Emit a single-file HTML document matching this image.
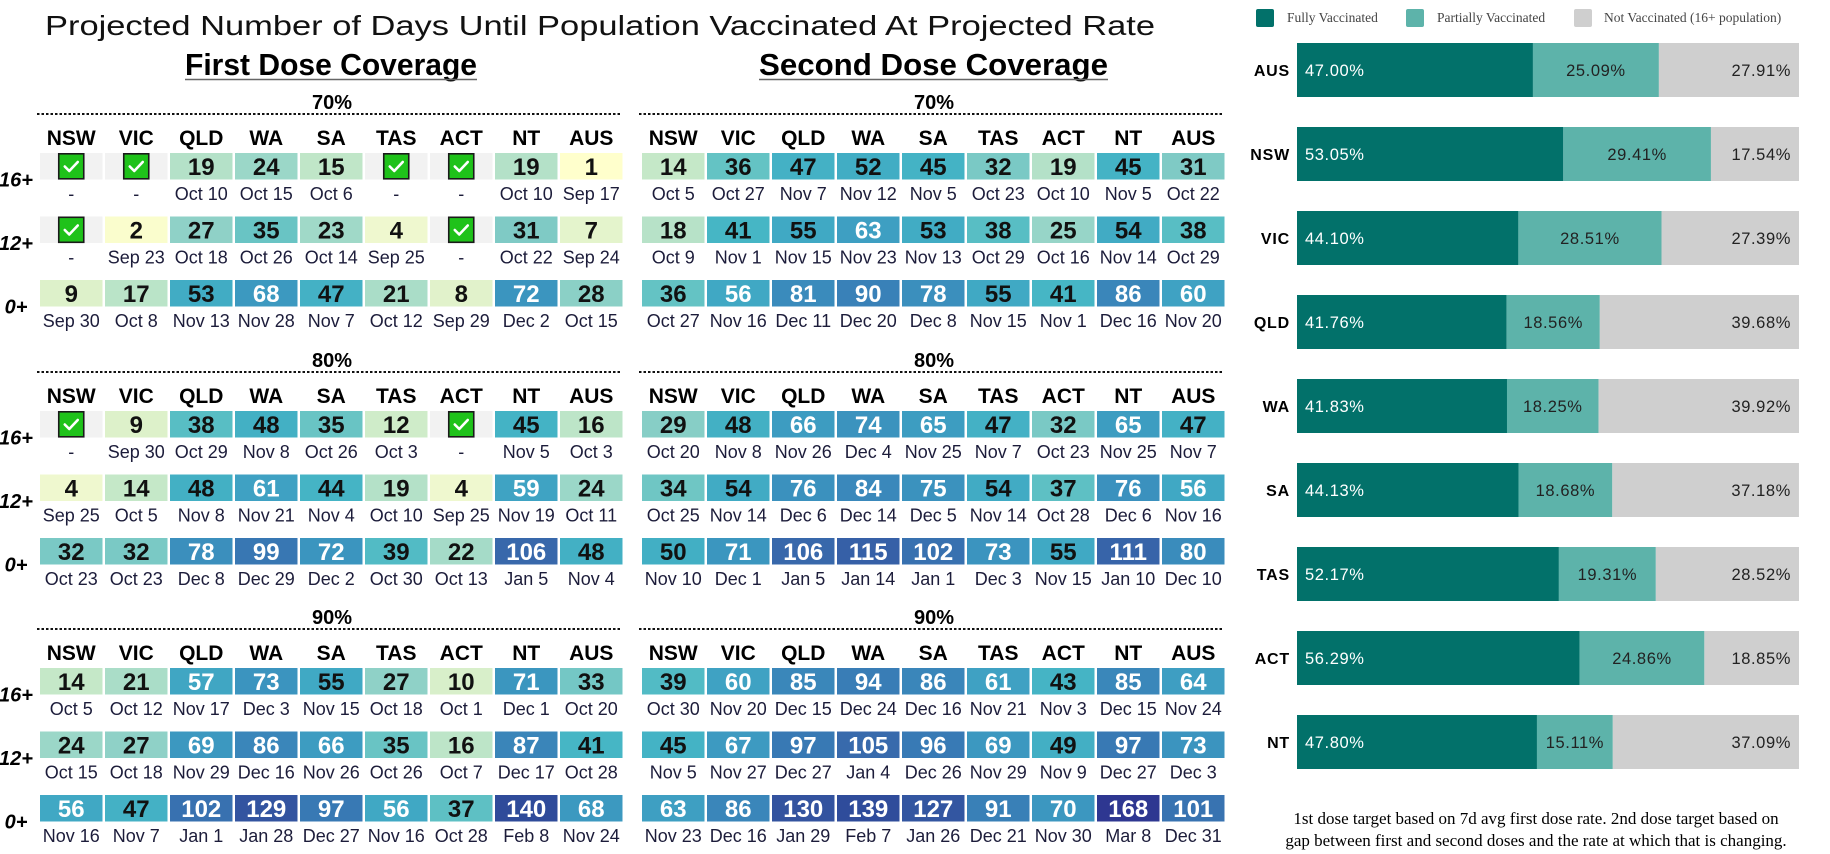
<!DOCTYPE html>
<html><head><meta charset="utf-8"><style>
html,body{margin:0;padding:0;background:#fff;}
svg{display:block;}
</style></head><body>
<svg id="chart" width="1830" height="854" viewBox="0 0 1830 854" xmlns="http://www.w3.org/2000/svg" font-family="Liberation Sans, sans-serif">
<text x="45" y="35" font-size="28" textLength="1110" lengthAdjust="spacingAndGlyphs" fill="#111">Projected Number of Days Until Population Vaccinated At Projected Rate</text>
<text x="185" y="75" font-size="31" font-weight="bold" textLength="292" lengthAdjust="spacingAndGlyphs">First Dose Coverage</text>
<line x1="185" y1="79.5" x2="477" y2="79.5" stroke="#666" stroke-width="1.5"/>
<text x="759" y="75" font-size="31" font-weight="bold" textLength="349" lengthAdjust="spacingAndGlyphs">Second Dose Coverage</text>
<line x1="759" y1="79.5" x2="1108" y2="79.5" stroke="#666" stroke-width="1.5"/>
<g id="tables"></g>
<g id="bars"></g>
<text x="1536" y="824" font-size="17" font-family="Liberation Serif, serif" text-anchor="middle">1st dose target based on 7d avg first dose rate. 2nd dose target based on</text>
<text x="1536" y="846" font-size="17" font-family="Liberation Serif, serif" text-anchor="middle">gap between first and second doses and the rate at which that is changing.</text>
</svg>
<script>
const states = ["NSW","VIC","QLD","WA","SA","TAS","ACT","NT","AUS"];
const ageGroups = ["16+","12+","0+"];
const targets = ["70%","80%","90%"];
// 0 = already reached (checkbox)
const firstDays = [
 [[0,0,19,24,15,0,0,19,1],[0,2,27,35,23,4,0,31,7],[9,17,53,68,47,21,8,72,28]],
 [[0,9,38,48,35,12,0,45,16],[4,14,48,61,44,19,4,59,24],[32,32,78,99,72,39,22,106,48]],
 [[14,21,57,73,55,27,10,71,33],[24,27,69,86,66,35,16,87,41],[56,47,102,129,97,56,37,140,68]]
];
const firstDates = [
 [["-","-","Oct 10","Oct 15","Oct 6","-","-","Oct 10","Sep 17"],["-","Sep 23","Oct 18","Oct 26","Oct 14","Sep 25","-","Oct 22","Sep 24"],["Sep 30","Oct 8","Nov 13","Nov 28","Nov 7","Oct 12","Sep 29","Dec 2","Oct 15"]],
 [["-","Sep 30","Oct 29","Nov 8","Oct 26","Oct 3","-","Nov 5","Oct 3"],["Sep 25","Oct 5","Nov 8","Nov 21","Nov 4","Oct 10","Sep 25","Nov 19","Oct 11"],["Oct 23","Oct 23","Dec 8","Dec 29","Dec 2","Oct 30","Oct 13","Jan 5","Nov 4"]],
 [["Oct 5","Oct 12","Nov 17","Dec 3","Nov 15","Oct 18","Oct 1","Dec 1","Oct 20"],["Oct 15","Oct 18","Nov 29","Dec 16","Nov 26","Oct 26","Oct 7","Dec 17","Oct 28"],["Nov 16","Nov 7","Jan 1","Jan 28","Dec 27","Nov 16","Oct 28","Feb 8","Nov 24"]]
];
const secondDays = [
 [[14,36,47,52,45,32,19,45,31],[18,41,55,63,53,38,25,54,38],[36,56,81,90,78,55,41,86,60]],
 [[29,48,66,74,65,47,32,65,47],[34,54,76,84,75,54,37,76,56],[50,71,106,115,102,73,55,111,80]],
 [[39,60,85,94,86,61,43,85,64],[45,67,97,105,96,69,49,97,73],[63,86,130,139,127,91,70,168,101]]
];
const secondDates = [
 [["Oct 5","Oct 27","Nov 7","Nov 12","Nov 5","Oct 23","Oct 10","Nov 5","Oct 22"],["Oct 9","Nov 1","Nov 15","Nov 23","Nov 13","Oct 29","Oct 16","Nov 14","Oct 29"],["Oct 27","Nov 16","Dec 11","Dec 20","Dec 8","Nov 15","Nov 1","Dec 16","Nov 20"]],
 [["Oct 20","Nov 8","Nov 26","Dec 4","Nov 25","Nov 7","Oct 23","Nov 25","Nov 7"],["Oct 25","Nov 14","Dec 6","Dec 14","Dec 5","Nov 14","Oct 28","Dec 6","Nov 16"],["Nov 10","Dec 1","Jan 5","Jan 14","Jan 1","Dec 3","Nov 15","Jan 10","Dec 10"]],
 [["Oct 30","Nov 20","Dec 15","Dec 24","Dec 16","Nov 21","Nov 3","Dec 15","Nov 24"],["Nov 5","Nov 27","Dec 27","Jan 4","Dec 26","Nov 29","Nov 9","Dec 27","Dec 3"],["Nov 23","Dec 16","Jan 29","Feb 7","Jan 26","Dec 21","Nov 30","Mar 8","Dec 31"]]
];
const barStates = ["AUS","NSW","VIC","QLD","WA","SA","TAS","ACT","NT"];
const fullyPct = [47.00,53.05,44.10,41.76,41.83,44.13,52.17,56.29,47.80];
const partialPct = [25.09,29.41,28.51,18.56,18.25,18.68,19.31,24.86,15.11];
const notPct = [27.91,17.54,27.39,39.68,39.92,37.18,28.52,18.85,37.09];

const NS="http://www.w3.org/2000/svg";
function mk(tag, attrs, parent, txt){const e=document.createElementNS(NS,tag);for(const k in attrs)e.setAttribute(k,attrs[k]);if(txt!==undefined)e.textContent=txt;parent.appendChild(e);return e;}
const stops=[[1,[255,255,204]],[4,[239,248,207]],[9,[221,241,202]],[15,[192,230,200]],[19,[180,225,200]],[24,[155,215,200]],[31,[127,202,197]],[36,[100,195,196]],[41,[70,182,197]],[53,[65,172,196]],[60,[63,162,195]],[72,[59,149,191]],[86,[58,134,186]],[99,[56,119,179]],[106,[56,104,171]],[129,[51,84,160]],[140,[47,75,154]],[168,[46,55,145]]];
function color(v){if(v<=stops[0][0])return "rgb(255,255,204)";for(let i=1;i<stops.length;i++){if(v<=stops[i][0]){const a=stops[i-1],b=stops[i];const t=(v-a[0])/(b[0]-a[0]);const c=a[1].map((x,j)=>Math.round(x+(b[1][j]-x)*t));return `rgb(${c})`;}}return "rgb(46,55,145)";}

const tables=document.getElementById('tables');
const colX=i=>i*65, cellW=62.5, cellH=26.5;
const blockTop=[153,411,668], rowOff=r=>r*63.5;
function drawTable(x0, days, dates, name){
  const g=mk('g',{},tables);
  
  
  targets.forEach((tg,b)=>{
    const top=blockTop[b];
    const lab=mk('text',{x:x0+292,y:top-44,'font-size':20,'font-weight':'bold','text-anchor':'middle'},g,tg);
    
    
    const ln=mk('line',{x1:x0-3,y1:top-39,x2:x0+582,y2:top-39,stroke:'#111','stroke-width':2,'stroke-dasharray':'2.5,2'},g);
    
    
    states.forEach((s,i)=>{
      const h=mk('text',{x:x0+colX(i)+cellW/2,y:top-8,'font-size':21,'font-weight':'bold','text-anchor':'middle'},g,s);
      
      
    });
    ageGroups.forEach((a,r)=>{
      const y=top+rowOff(r);
      states.forEach((s,i)=>{
        const v=days[b][r][i], x=x0+colX(i);
        const cg=mk('g',{},g);
        
        
        if(v===0){
          mk('rect',{x:x,y:y,width:cellW,height:cellH,fill:'#f2f2f2'},cg);
          mk('rect',{x:x+cellW/2-12.5,y:y+0.8,width:25,height:25,fill:'#1fc21a',stroke:'#1a1a1a','stroke-width':1.6},cg);
          mk('path',{d:`M${x+cellW/2-6.5} ${y+13.5} l4.5 4.5 l8.5 -9`,fill:'none',stroke:'#fff','stroke-width':2.6,'stroke-linecap':'round','stroke-linejoin':'round'},cg);
        } else {
          mk('rect',{x:x,y:y,width:cellW,height:cellH,fill:color(v)},cg);
          mk('text',{x:x+cellW/2,y:y+22,'font-size':24,'font-weight':'bold','text-anchor':'middle',fill:v>=56?'#fff':'#111'},cg,String(v));
        }
        mk('text',{x:x+cellW/2,y:y+47,'font-size':18,'text-anchor':'middle',fill:'#1c1c3a'},cg,dates[b][r][i]);
      });
      if(x0<100){
        const rl=mk('text',{x:16,y:y+cellH+7,'font-size':20,'font-weight':'bold','font-style':'italic','text-anchor':'middle'},g,a);
        
        
      }
    });
  });
}
drawTable(40, firstDays, firstDates, 'first-dose-table');
drawTable(642, secondDays, secondDates, 'second-dose-table');

// bar chart
const bars=document.getElementById('bars');
const bx0=1297, bw=502, by0=43, bh=54, bpitch=84;
const xs=p=>p/100*bw;
const lg=[["Fully Vaccinated","#02716a",1256,1287],["Partially Vaccinated","#5db3aa",1406,1437],["Not Vaccinated (16+ population)","#cfcfcf",1574,1604]];
lg.forEach(l=>{
  const g=mk('g',{},bars);
  
  
  mk('rect',{x:l[2],y:9,width:18,height:18,rx:2,fill:l[1]},g);
  mk('text',{x:l[3],y:22,'font-size':13.5,'font-family':'Liberation Serif, serif',fill:'#444'},g,l[0]);
});
barStates.forEach((s,i)=>{
  const y=by0+i*bpitch;
  const g=mk('g',{},bars);
  
  
  mk('text',{x:1290,y:y+bh/2+6,'font-size':16,'font-weight':'bold','text-anchor':'end','letter-spacing':'0.8'},g,s);
  const f=xs(fullyPct[i]), p=xs(partialPct[i]), n=xs(notPct[i]);
  mk('rect',{x:bx0,y:y,width:f,height:bh,fill:'#02716a'},g);
  mk('rect',{x:bx0+f,y:y,width:p,height:bh,fill:'#5db3aa'},g);
  mk('rect',{x:bx0+f+p,y:y,width:n,height:bh,fill:'#cfcfcf'},g);
  mk('text',{x:bx0+8,y:y+bh/2+6,'font-size':16.5,fill:'#fff','letter-spacing':'0.6'},g,fullyPct[i].toFixed(2)+'%');
  mk('text',{x:bx0+f+p/2,y:y+bh/2+6,'font-size':16.5,fill:'#222','text-anchor':'middle','letter-spacing':'0.6'},g,partialPct[i].toFixed(2)+'%');
  mk('text',{x:bx0+f+p+n-8,y:y+bh/2+6,'font-size':16.5,fill:'#222','text-anchor':'end','letter-spacing':'0.6'},g,notPct[i].toFixed(2)+'%');
});
</script>
</body></html>
